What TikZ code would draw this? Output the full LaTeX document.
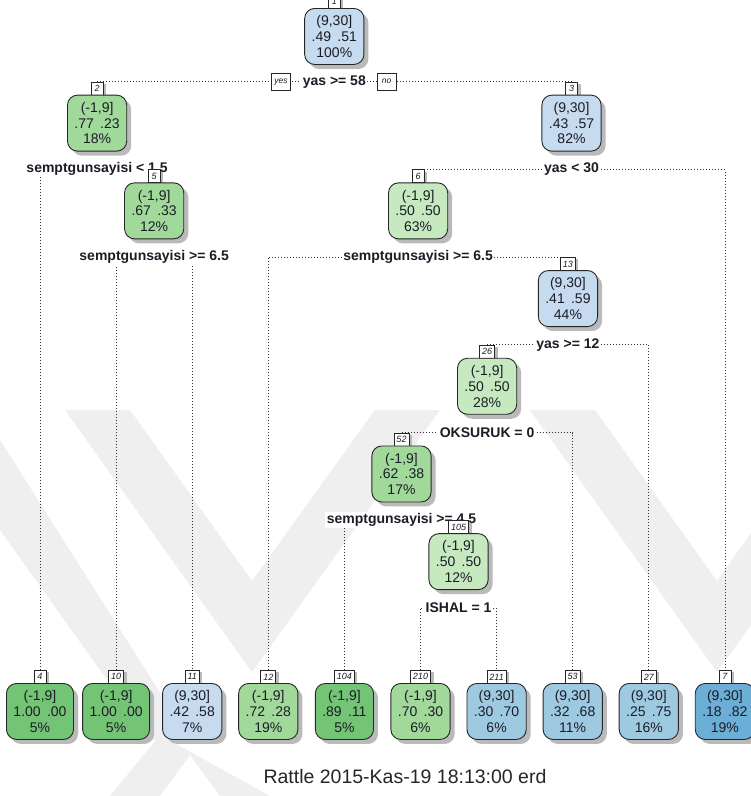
\documentclass[tikz,border=0pt]{standalone}
\usepackage{fontspec}
\setmainfont{Liberation Sans}
\usetikzlibrary{shadows}
\pgfdeclarelayer{watermark}
\pgfdeclarelayer{links}
\pgfsetlayers{watermark,links,main}

% rpart.plot style palette
\definecolor{blueA}{HTML}{C6DBEF}
\definecolor{blueB}{HTML}{9ECAE1}
\definecolor{blueC}{HTML}{6BAED6}
\definecolor{greenA}{HTML}{C7E9C0}
\definecolor{greenB}{HTML}{A1D99B}
\definecolor{greenC}{HTML}{74C476}
\definecolor{wmgray}{HTML}{EFEFEF}
\definecolor{ink}{HTML}{1C1C26}

\tikzset{
  treebox/.style={draw=black!85, line width=0.9pt, rounded corners=10pt,
    minimum width=56pt, minimum height=56pt, inner xsep=7pt, inner ysep=0pt,
    align=center, anchor=north, text=ink,
    font=\fontsize{14}{15.8}\selectfont,
    drop shadow={shadow xshift=4.5pt, shadow yshift=-4.5pt, fill=black!27, opacity=1}},
  numtag/.style={draw=black!85, fill=white, line width=0.7pt, anchor=north,
    minimum height=13pt, minimum width=12pt, inner xsep=2.5pt, inner ysep=0pt,
    font=\fontsize{9}{9}\selectfont\itshape, text=ink,
    drop shadow={shadow xshift=3pt, shadow yshift=-2pt, fill=black!27, opacity=1}},
  splitlab/.style={fill=white, inner xsep=1.5pt, inner ysep=1.5pt, text=ink,
    font=\fontsize{14}{15}\selectfont\bfseries},
  yesno/.style={draw=black!85, fill=white, line width=0.7pt,
    minimum height=17pt, minimum width=19pt, inner xsep=2pt, inner ysep=0pt,
    font=\fontsize{8.5}{9}\selectfont\itshape, text=ink},
  link/.style={line width=0.8pt, dash pattern=on 0.8pt off 2.2pt, black!80},
  wm/.style={fill=wmgray, draw=none},
}

% #1 id, #2 x, #3 top of the number tag, #4 fill, #5-#7 text lines
\newcommand\treenode[7]{%
  \node[numtag] (l#1) at (#2,#3) {#1};
  \node[treebox, fill=#4] (b#1) at (#2,#3+13) {#5\\#6\\#7};
}
\newcommand\probs[2]{#1\hspace{0.45em}#2}

\begin{document}
\begin{tikzpicture}[x=1pt, y=-1pt]
\useasboundingbox (0,0) rectangle (751,796);

% background and faint watermark chevrons
\begin{pgfonlayer}{watermark}
  \fill[white] (0,0) rectangle (751,796);
  \fill[wm] (65,410) -- (130,410) -- (252,581) -- (375,410) -- (440,410)
            -- (252,672) -- cycle;
  \fill[wm] (530,410) -- (595,410) -- (717,581) -- (751,533) -- (751,625)
            -- (717,672) -- cycle;
  \fill[wm] (0,440) -- (0,530) -- (150,740) -- (190,740) -- cycle;
  \fill[wm] (160,735) -- (110,796) -- (160,796) -- (190,755) -- (220,796)
            -- (270,796) -- cycle;
\end{pgfonlayer}

% split conditions
\node[splitlab] (s1) at (334.3,81.7) {yas >= 58};
\node[splitlab] (s2) at (97.1,169.4) {semptgunsayisi < 1.5};
\node[splitlab] (s3) at (571.5,169.4) {yas < 30};
\node[splitlab] (s5) at (154.15,257.1) {semptgunsayisi >= 6.5};
\node[splitlab] (s6) at (418.1,257.1) {semptgunsayisi >= 6.5};
\node[splitlab] (s13) at (567.95,344.8) {yas >= 12};
\node[splitlab] (s26) at (487.1,432.5) {OKSURUK = 0};
\node[splitlab] (s52) at (401.5,520.2) {semptgunsayisi >= 4.5};
\node[splitlab] (s105) at (458.55,607.9) {ISHAL = 1};

\node[yesno] (yes) at (281,81.7) {yes};
\node[yesno] (no) at (386.5,81.7) {no};

% inner nodes
\treenode{1}{334.3}{-5}{blueA}{(9,30]}{\probs{.49}{.51}}{100\%}
\treenode{2}{97.1}{81.7}{greenB}{(-1,9]}{\probs{.77}{.23}}{18\%}
\treenode{3}{571.5}{81.7}{blueA}{(9,30]}{\probs{.43}{.57}}{82\%}
\treenode{5}{154.15}{169.4}{greenB}{(-1,9]}{\probs{.67}{.33}}{12\%}
\treenode{6}{418.1}{169.4}{greenA}{(-1,9]}{\probs{.50}{.50}}{63\%}
\treenode{13}{567.95}{257.1}{blueA}{(9,30]}{\probs{.41}{.59}}{44\%}
\treenode{26}{487.1}{344.8}{greenA}{(-1,9]}{\probs{.50}{.50}}{28\%}
\treenode{52}{401.5}{432.5}{greenB}{(-1,9]}{\probs{.62}{.38}}{17\%}
\treenode{105}{458.55}{520.2}{greenA}{(-1,9]}{\probs{.50}{.50}}{12\%}

% leaves
\treenode{4}{40}{670}{greenC}{(-1,9]}{\probs{1.00}{.00}}{5\%}
\treenode{10}{116.1}{670}{greenC}{(-1,9]}{\probs{1.00}{.00}}{5\%}
\treenode{11}{192.2}{670}{blueA}{(9,30]}{\probs{.42}{.58}}{7\%}
\treenode{12}{268.3}{670}{greenB}{(-1,9]}{\probs{.72}{.28}}{19\%}
\treenode{104}{344.4}{670}{greenC}{(-1,9]}{\probs{.89}{.11}}{5\%}
\treenode{210}{420.5}{670}{greenB}{(-1,9]}{\probs{.70}{.30}}{6\%}
\treenode{211}{496.6}{670}{blueB}{(9,30]}{\probs{.30}{.70}}{6\%}
\treenode{53}{572.7}{670}{blueB}{(9,30]}{\probs{.32}{.68}}{11\%}
\treenode{27}{648.8}{670}{blueB}{(9,30]}{\probs{.25}{.75}}{16\%}
\treenode{7}{724.9}{670}{blueC}{(9,30]}{\probs{.18}{.82}}{19\%}

% dotted branches
\begin{pgfonlayer}{links}
  \draw[link] (l2.north) |- (s1.center) -| (l3.north);
  \draw[link] (l4.north) |- (s2.center) -| (l5.north);
  \draw[link] (l10.north) |- (s5.center) -| (l11.north);
  \draw[link] (l6.north) |- (s3.center) -| (l7.north);
  \draw[link] (l12.north) |- (s6.center) -| (l13.north);
  \draw[link] (l26.north) |- (s13.center) -| (l27.north);
  \draw[link] (l52.north) |- (s26.center) -| (l53.north);
  \draw[link] (l104.north) |- (s52.center) -| (l105.north);
  \draw[link] (l210.north) |- (s105.center) -| (l211.north);
\end{pgfonlayer}

\node[font=\fontsize{19.5}{21}\selectfont, text=black!85] (footer) at (405,777)
  {Rattle 2015-Kas-19 18:13:00 erd};
\end{tikzpicture}
\end{document}
